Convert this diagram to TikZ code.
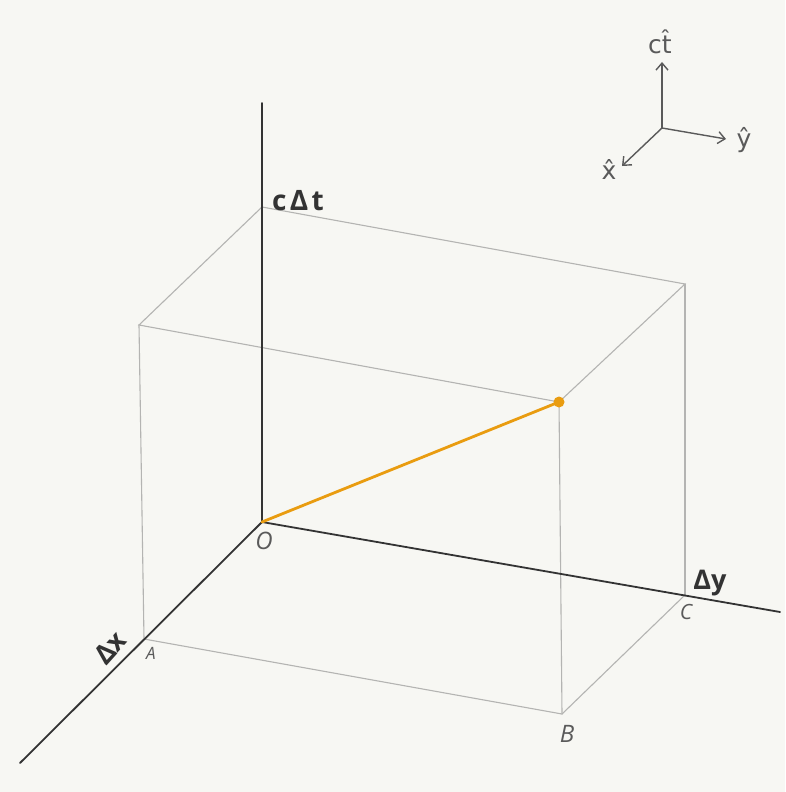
\documentclass[tikz,border=0pt]{standalone}
\usepackage{fontspec}
\setmainfont{Open Sans}
\newfontfamily\hatfont{DejaVu Sans}
\usetikzlibrary{arrows.meta}
\definecolor{bg}{HTML}{F7F7F3}
\definecolor{axis}{HTML}{333333}
\definecolor{boxln}{HTML}{B4B4B2}
\definecolor{lab}{HTML}{5A5A5A}
\definecolor{orng}{HTML}{E99C10}
\tikzset{
  axisln/.style={draw=axis, line width=1.8pt, line cap=round},
  boxline/.style={draw=boxln, line width=1.1pt, line cap=round},
  worldline/.style={draw=orng, line width=2.8pt, line cap=round},
  legendarrow/.style={draw=lab, line width=1.4pt, -{Straight Barb[length=7pt,width=12pt,line width=1.4pt]}},
  biglabel/.style={text=axis, inner sep=1pt, font=\bfseries\fontsize{27}{29}\selectfont},
  ptlabel/.style={text=lab, inner sep=1pt, font=\itshape\fontsize{24}{26}\selectfont},
  hatlabel/.style={text=lab, inner sep=1pt, font=\hatfont\fontsize{25}{27}\selectfont}
}
\begin{document}
\begin{tikzpicture}[x=1pt,y=-1pt]
\fill[bg] (0,0) rectangle (785,792);
\useasboundingbox (0,0) rectangle (785,792);
% points
\coordinate (O) at (262,522);
\coordinate (Ttop) at (262,103);
\coordinate (Yend) at (780,612);
\coordinate (Xend) at (20,763);
\coordinate (A) at (144,639);
\coordinate (B) at (562,714);
\coordinate (C) at (685,595);
\coordinate (Ot) at (262,207);
\coordinate (At) at (139,325);
\coordinate (Bt) at (559,402);
\coordinate (Ct) at (685,284);
% box
\path[boxline] (A) -- (B) -- (C);
\path[boxline] (A) -- (At);
\path[boxline] (B) -- (Bt);
\path[boxline] (C) -- (Ct);
\path[boxline] (At) -- (Bt) -- (Ct) -- (Ot) -- cycle;
% axes
\path[axisln] (Ttop) -- (O);
\path[axisln] (O) -- (Yend);
\path[axisln] (O) -- (Xend);
% world line
\path[worldline] (O) -- (Bt);
\fill[orng] (Bt) circle (5.5pt);
% labels
\node[biglabel, font=\bfseries\fontsize{28}{30}\selectfont\addfontfeatures{LetterSpace=12}] (lct) at (298,201) {cΔt};
\node[biglabel] (ly) at (710,583) {Δy};
\node[biglabel, inner sep=0pt, rotate=48] (lx) at (110,648) {Δx};
\node[ptlabel] (lO) at (264,541) {O};
\node[ptlabel, font=\itshape\fontsize{17}{19}\selectfont] (lA) at (151,653) {A};
\node[ptlabel] (lB) at (567,734) {B};
\node[ptlabel, font=\itshape\fontsize{21}{23}\selectfont] (lC) at (686,612) {C};
% legend
\coordinate (L) at (662,128);
\coordinate (Lup) at (662,62);
\coordinate (Lr) at (726,139);
\coordinate (Ld) at (622,166);
\path[legendarrow] (L) -- (Lup);
\path[legendarrow] (L) -- (Lr);
\path[legendarrow] (L) -- (Ld);
\node[hatlabel] (lhct) at (660,42) {ct̂};
\node[hatlabel] (lhy) at (744,140) {ŷ};
\node[hatlabel] (lhx) at (609,170) {x̂};
\end{tikzpicture}
\end{document}
